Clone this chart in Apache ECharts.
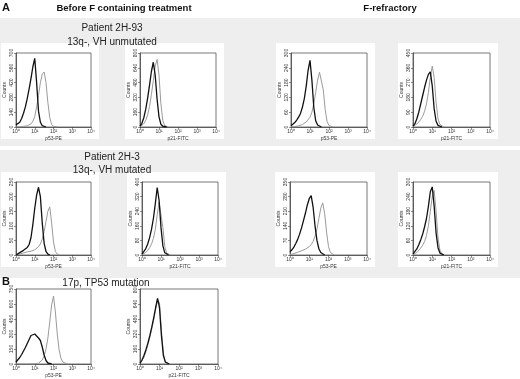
<!DOCTYPE html>
<html><head><meta charset="utf-8">
<script src="https://cdn.jsdelivr.net/npm/echarts@6/dist/echarts.min.js"></script>
<style>html,body{margin:0;padding:0;background:#fff}#c{width:520px;height:379px}</style>
</head><body><div id="c"></div>
<script>
// log10 fluorescence grid (decades)
const logGrid = [0,0.1,0.2,0.3,0.4,0.5,0.6,0.7,0.8,0.9,1.0,1.1,1.2,1.3,1.4,1.5,1.6,1.7,1.8,1.9,2.0,2.1,2.2,2.3,2.4,2.5,2.6,2.7,2.8];
const xTickLabels = ['10\u2070','10\u00b9','10\u00b2','10\u00b3','10\u2074'];

// Row 1: Patient 2H-93
const r1c1Black = [20,30,45,80,130,190,270,360,460,570,650,420,150,45,12,3,0];
const r1c1Gray  = [0,0,2,4,6,8,12,18,30,55,100,190,300,420,500,520,420,230,90,25,6,2,0];
const r1c2Black = [10,40,100,190,310,450,600,700,560,300,110,30,8,2,0];
const r1c2Gray  = [5,15,35,70,130,220,350,500,660,730,560,250,70,15,3,0];
const r1c3Black = [5,10,18,28,40,55,80,115,165,230,270,190,80,25,8,2,0];
const r1c3Gray  = [0,1,2,3,5,7,10,14,20,28,40,60,95,140,190,222,215,150,70,22,6,2,0];
const r1c4Black = [5,20,50,90,140,190,240,285,320,335,250,110,35,10,3,0];
const r1c4Gray  = [3,8,18,30,45,65,95,140,210,300,370,300,150,50,15,4,0];
// Row 2: Patient 2H-3
const r2c1Black = [0,3,8,12,16,20,26,36,60,105,160,205,232,200,110,40,12,3,0];
const r2c1Gray  = [0,1,3,5,7,9,11,12,13,15,18,22,28,38,55,80,115,150,165,110,45,12,3,0];
const r2c2Black = [5,15,35,60,95,140,200,280,370,300,150,50,12,3,0];
const r2c2Gray  = [2,6,14,25,40,60,90,140,220,290,280,150,45,10,2,0];
const r2c3Black = [15,25,38,55,75,100,130,165,200,240,270,285,230,140,70,30,12,4,0];
const r2c3Gray  = [2,4,7,10,13,17,20,24,28,33,40,50,65,90,125,175,225,250,200,110,40,12,3,0];
const r2c4Black = [5,12,25,42,62,85,115,150,200,260,280,200,90,30,8,2,0];
const r2c4Gray  = [2,5,10,18,28,40,55,80,120,180,240,265,180,70,20,5,0];
// Row B: 17p, TP53 mutation
const rBc1Black = [20,40,65,95,130,165,205,245,285,305,300,285,260,235,170,90,35,10,3,0];
const rBc1Gray  = [0,0,0,0,0,0,0,0,1,1,2,4,8,18,40,80,150,260,420,590,680,520,300,140,55,20,6,2,0];
const rBc2Black = [10,40,90,150,220,300,390,490,600,700,600,300,90,20,4,0];
const rBc2Gray  = [5,25,70,130,200,280,370,470,580,690,650,360,110,25,5,0];

const yMax = [700,800,300,450, 250,400,350,300, 750,800];
const xNames = ['p53-PE','p21-FITC','p53-PE','p21-FITC','p53-PE','p21-FITC','p53-PE','p21-FITC','p53-PE','p21-FITC'];
const curves = [
  [r1c1Black,r1c1Gray],[r1c2Black,r1c2Gray],[r1c3Black,r1c3Gray],[r1c4Black,r1c4Gray],
  [r2c1Black,r2c1Gray],[r2c2Black,r2c2Gray],[r2c3Black,r2c3Gray],[r2c4Black,r2c4Gray],
  [rBc1Black,rBc1Gray],[rBc2Black,rBc2Gray]
];
// layout boxes [left, top, width, height]
const boxes = [
  [16,53,75,74],[140,53,76,74],[291,53,76,74],[413,53,77,74],
  [16,182,75,73],[142,182,76,73],[290,182,77,73],[413,182,77,73],
  [16,289,75,78],[140,289,78,78]
];

const grids=[], xAxes=[], yAxes=[], series=[], graphics=[];
// background bands
graphics.push({type:'rect',z:-100,shape:{x:0,y:18,width:520,height:128},style:{fill:'#eeeeee'}});
graphics.push({type:'rect',z:-100,shape:{x:0,y:150,width:520,height:128},style:{fill:'#eeeeee'}});
boxes.forEach((b,i)=>{
  if(i<8) graphics.push({type:'rect',z:-90,shape:{x:b[0]-15,y:b[1]-10,width:b[2]+23,height:b[3]+22},style:{fill:'#ffffff'}});
  grids.push({left:b[0],top:b[1],width:b[2],height:b[3],show:true,borderColor:'#555',borderWidth:0.8,backgroundColor:'#fff'});
  xAxes.push({type:'value',gridIndex:i,min:0,max:4,interval:1,
    name:xNames[i],nameLocation:'middle',nameGap:9,nameTextStyle:{fontSize:5,color:'#333',fontFamily:'Liberation Sans'},
    axisLine:{lineStyle:{color:'#444',width:0.8}},axisTick:{length:2,lineStyle:{color:'#444',width:0.6}},
    splitLine:{show:false},
    axisLabel:{fontSize:5,color:'#333',margin:2,fontFamily:'Liberation Sans',formatter:v=>xTickLabels[Math.round(v)]}});
  yAxes.push({type:'value',gridIndex:i,min:0,max:yMax[i],interval:yMax[i]/5,
    name:'Counts',nameLocation:'middle',nameGap:9,nameRotate:90,nameTextStyle:{fontSize:5,color:'#333',fontFamily:'Liberation Sans'},
    axisLine:{lineStyle:{color:'#444',width:0.8}},axisTick:{length:2,lineStyle:{color:'#444',width:0.6}},
    splitLine:{show:false},
    axisLabel:{fontSize:5,color:'#333',margin:2,rotate:90,fontFamily:'Liberation Sans'}});
  const [blk,gry]=curves[i];
  series.push({type:'line',xAxisIndex:i,yAxisIndex:i,symbol:'none',animation:false,z:3,
    lineStyle:{color:'#9a9a9a',width:1},data:gry.map((v,k)=>[logGrid[k],v])});
  series.push({type:'line',xAxisIndex:i,yAxisIndex:i,symbol:'none',animation:false,z:4,
    lineStyle:{color:'#111',width:1.3},data:blk.map((v,k)=>[logGrid[k],v])});
});

const txt=(x,y,t,o)=>Object.assign({type:'text',x:x,y:y,z:10,style:Object.assign({text:t,fill:'#222',fontSize:10,fontFamily:'Liberation Sans',textAlign:'center',textVerticalAlign:'middle'},o||{})});
graphics.push(txt(6,8,'A',{fontWeight:'bold',fontSize:11,fill:'#111'}));
graphics.push(txt(124,8,'Before F containing treatment',{fontWeight:'bold',fontSize:9.5,fill:'#111'}));
graphics.push(txt(390,8,'F-refractory',{fontWeight:'bold',fontSize:9.5,fill:'#111'}));
graphics.push(txt(112,28,'Patient 2H-93'));
graphics.push(txt(112,42,'13q-, VH unmutated'));
graphics.push(txt(112,157,'Patient 2H-3'));
graphics.push(txt(112,170,'13q-, VH mutated'));
graphics.push(txt(6,282,'B',{fontWeight:'bold',fontSize:11,fill:'#111'}));
graphics.push(txt(106,283,'17p, TP53 mutation'));

const chart=echarts.init(document.getElementById('c'),null,{renderer:'canvas'});
chart.setOption({animation:false,backgroundColor:'transparent',grid:grids,xAxis:xAxes,yAxis:yAxes,series:series,graphic:{elements:graphics}});
</script></body></html>
